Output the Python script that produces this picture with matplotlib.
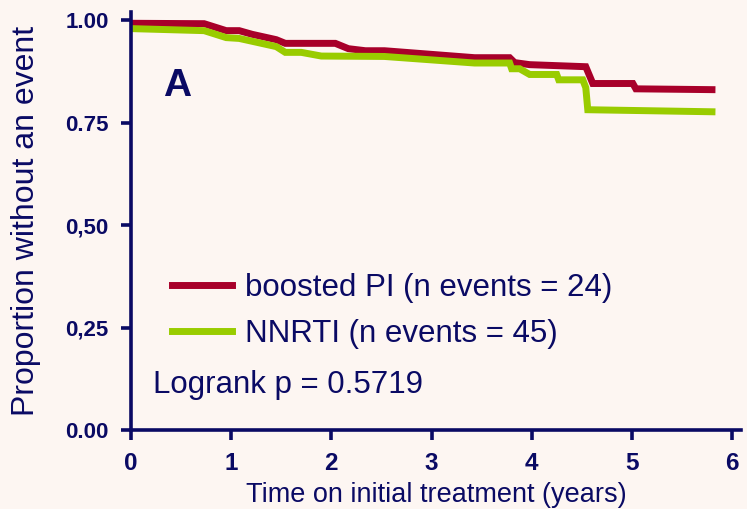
import numpy as np
import matplotlib.pyplot as plt

# Kaplan-Meier curves read as (years, proportion) points
pi_t = [0.0, 0.73, 0.95, 1.08, 1.21, 1.45, 1.54, 2.04, 2.17, 2.34, 2.53, 3.43, 3.78, 3.83, 3.98, 4.54, 4.61, 5.01, 5.04, 5.80]
pi_s = [0.993, 0.992, 0.975, 0.975, 0.966, 0.953, 0.944, 0.944, 0.931, 0.926, 0.926, 0.909, 0.909, 0.897, 0.892, 0.887, 0.846, 0.846, 0.833, 0.831]

nnrti_t = [0.0, 0.73, 0.95, 1.08, 1.21, 1.45, 1.54, 1.70, 1.90, 2.53, 3.43, 3.78, 3.80, 3.88, 3.98, 4.25, 4.27, 4.51, 4.54, 4.56, 5.80]
nnrti_s = [0.980, 0.975, 0.958, 0.956, 0.949, 0.936, 0.922, 0.922, 0.913, 0.912, 0.896, 0.896, 0.882, 0.882, 0.868, 0.868, 0.855, 0.855, 0.836, 0.782, 0.777]

labels = ['boosted PI (n events = 24)', 'NNRTI (n events = 45)']
yticks = [0.0, 0.25, 0.50, 0.75, 1.0]
ytick_labels = ['0.00', '0,25', '0,50', '0.75', '1.00']
xticks = [0, 1, 2, 3, 4, 5, 6]
pvalue = 0.5719

navy = '#0a0a64'
red = '#a8002a'
green = '#99cc00'
bg = '#fdf6f2'

plt.rcParams['font.family'] = ['Liberation Sans', 'DejaVu Sans']

fig = plt.figure(figsize=(7.47, 5.09), dpi=100, facecolor=bg)
ax = fig.add_axes([0.1754, 0.155, 0.8166, 0.821])
ax.set_facecolor(bg)

ax.plot(pi_t, pi_s, color=red, lw=5, label=labels[0], solid_joinstyle='miter')
ax.plot(nnrti_t, nnrti_s, color=green, lw=5, label=labels[1], solid_joinstyle='miter')

ax.set_xlim(0, 6.09)
ax.set_ylim(0, 1.02)

for side in ['top', 'right']:
    ax.spines[side].set_visible(False)
for side in ['left', 'bottom']:
    ax.spines[side].set_color(navy)
    ax.spines[side].set_linewidth(2.6)

ax.set_yticks(yticks)
ax.set_yticklabels(ytick_labels)
ax.set_xticks(xticks)
ax.tick_params(axis='both', colors=navy, width=2.6, length=7)
ax.tick_params(axis='y', pad=9, labelsize=16)
ax.tick_params(axis='x', pad=9, labelsize=17.5)
for lab in ax.get_xticklabels() + ax.get_yticklabels():
    lab.set_fontweight('bold')

ax.set_ylabel('Proportion without an event', color=navy, fontsize=23)
ax.yaxis.set_label_coords(-0.148, 0.5)
ax.set_xlabel('Time on initial treatment (years)', color=navy, fontsize=19.5)
ax.xaxis.set_label_coords(0.5, -0.125)

ax.text(0.46, 0.84, 'A', color=navy, fontsize=28, fontweight='bold', ha='center', va='center')

leg = ax.legend(loc='center left', bbox_to_anchor=(0.047, 0.285), frameon=False, fontsize=22.5,
                handlelength=1.9, handletextpad=0.42, labelspacing=0.52, borderaxespad=0)
for txt in leg.get_texts():
    txt.set_color(navy)
for line in leg.get_lines():
    line.set_linewidth(5)

ax.text(0.22, 0.11, 'Logrank p = %.4f' % pvalue, color=navy, fontsize=22.5, va='center')

fig.savefig('out.png', dpi=100, facecolor=bg)
